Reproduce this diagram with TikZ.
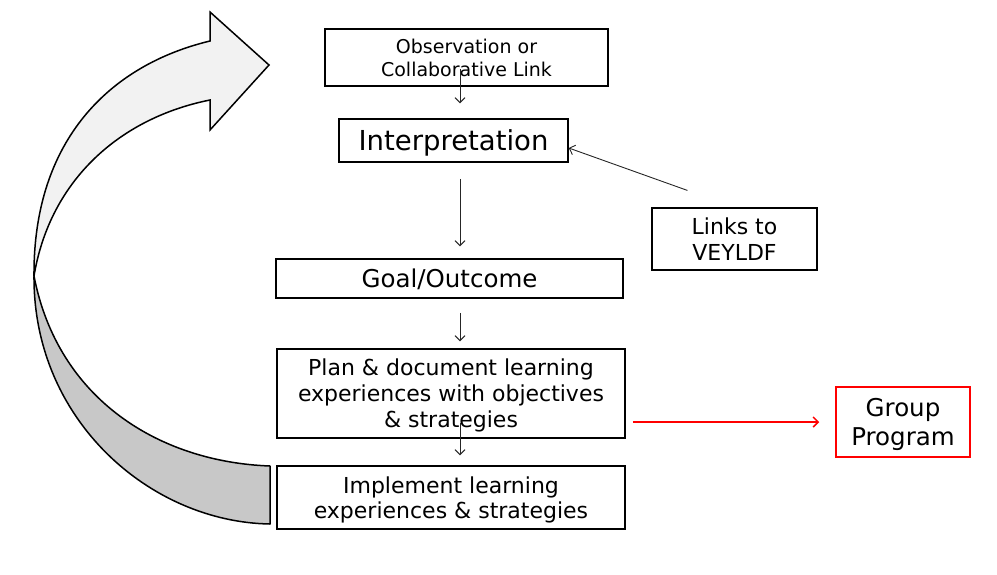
\documentclass[tikz,border=0pt]{standalone}
\usepackage{fontspec}
\setmainfont{DejaVu Sans}
\usetikzlibrary{arrows.meta}
\definecolor{bandlight}{RGB}{242,242,242}
\definecolor{banddark}{RGB}{200,200,200}
\tikzset{
  stagebox/.style={draw, line width=1.5pt, align=center, inner sep=0pt, text depth=0pt},
  flow/.style={line width=0.9pt, black!85, -{Straight Barb[length=5pt,width=10pt]}},
}
\begin{document}
\begin{tikzpicture}[x=1pt,y=-1pt]
  \useasboundingbox (0,0) rectangle (997,574);
  % curved return arrow
  \filldraw[fill=banddark, line width=1.5pt, line join=round]
    (34,276) .. controls (33,420) and (150,522) .. (270,524)
    -- (270,466) .. controls (160,462) and (58,400) .. (34,276) -- cycle;
  \filldraw[fill=bandlight, line width=1.5pt, line join=miter]
    (34,276) .. controls (33,140) and (110,65) .. (210,41)
    -- (210,12) -- (269,65) -- (210,130) -- (210,100)
    .. controls (120,118) and (50,180) .. (34,276) -- cycle;
  % stages
  \node[stagebox, minimum width=283pt, minimum height=57pt,
        font={\fontsize{19}{23}\selectfont}] (obs) at (466.5,57.5)
    {Observation or\\Collaborative Link};
  \node[stagebox, minimum width=229pt, minimum height=43pt,
        font={\fontsize{27.5}{30}\selectfont}] (interp) at (453.5,140.5)
    {Interpretation};
  \node[stagebox, minimum width=347pt, minimum height=39pt,
        font={\fontsize{24.5}{28}\selectfont}] (goal) at (449.5,278.5)
    {Goal/Outcome};
  \node[stagebox, minimum width=348pt, minimum height=89pt,
        font={\fontsize{22}{26}\selectfont}] (plan) at (451,393.5)
    {Plan \& document learning\\experiences with objectives\\\& strategies};
  \node[stagebox, minimum width=348pt, minimum height=63pt,
        font={\fontsize{22}{25}\selectfont}] (impl) at (451,497.5)
    {Implement learning\\experiences \& strategies};
  \node[stagebox, minimum width=165pt, minimum height=62pt,
        font={\fontsize{22}{26}\selectfont}] (links) at (734.5,239)
    {Links to\\VEYLDF};
  \node[stagebox, draw=red, text=black, minimum width=134pt, minimum height=70pt,
        font={\fontsize{24.5}{29}\selectfont}] (group) at (903,422)
    {Group\\Program};
  % connectors
  \coordinate (spine) at (460,0);
  \draw[flow, shorten <=-18pt, shorten >=15pt] (obs.south -| spine) -- (interp.north -| spine);
  \draw[flow, shorten <=16pt, shorten >=12pt] (interp.south -| spine) -- (goal.north -| spine);
  \draw[flow, shorten <=14pt, shorten >=7pt] (goal.south -| spine) -- (plan.north -| spine);
  \draw[flow, shorten <=-16pt, shorten >=10pt] (plan.south -| spine) -- (impl.north -| spine);
  \draw[flow, shorten <=50pt] (links.north) -- ([yshift=-7.5pt]interp.east);
  \draw[flow, red, line width=1.5pt, shorten <=7pt, shorten >=16pt] (plan.east |- group.west) -- (group.west);
\end{tikzpicture}
\end{document}
